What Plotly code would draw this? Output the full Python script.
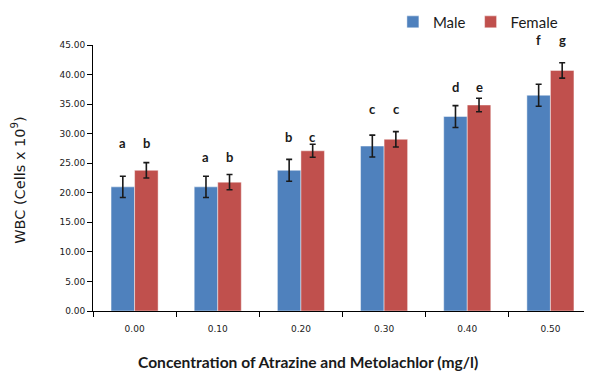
import plotly.graph_objects as go

categories = ["0.00", "0.10", "0.20", "0.30", "0.40", "0.50"]
male = [21.0, 21.0, 23.8, 27.9, 32.9, 36.5]
male_err = [1.8, 1.8, 1.85, 1.85, 1.85, 1.85]
female = [23.8, 21.8, 27.1, 29.05, 34.85, 40.7]
female_err = [1.3, 1.3, 1.1, 1.3, 1.15, 1.3]
male_letters = ["a", "a", "b", "c", "d", "f"]
female_letters = ["b", "b", "c", "c", "e", "g"]
letter_y = [28.5, 26.1, 29.5, 34.2, 37.9, 45.8]
y_ticks = [0, 5, 10, 15, 20, 25, 30, 35, 40, 45]
Y_MAX = 45

BLUE = "#4F81BD"
RED = "#C0504D"
TXT = "#1a1a1a"

fig = go.Figure()
fig.add_trace(go.Bar(
    name="Male", x=categories, y=male,
    marker=dict(color=BLUE, line=dict(color="rgba(255,255,255,0.45)", width=1)),
    error_y=dict(type="data", array=male_err, color="#1a1a1a", thickness=1.6, width=3),
))
fig.add_trace(go.Bar(
    name="Female", x=categories, y=female,
    marker=dict(color=RED, line=dict(color="rgba(255,255,255,0.45)", width=1)),
    error_y=dict(type="data", array=female_err, color="#1a1a1a", thickness=1.6, width=3),
))

annotations = []
lf = dict(family="Lato", size=13, color=TXT, weight="bold")
for i, (ly, ml, fl) in enumerate(zip(letter_y, male_letters, female_letters)):
    annotations.append(dict(x=i, y=ly / Y_MAX, xref="x", yref="paper", text=ml, showarrow=False,
                            xshift=-12, yanchor="middle", xanchor="center", font=lf))
    annotations.append(dict(x=i, y=ly / Y_MAX, xref="x", yref="paper", text=fl, showarrow=False,
                            xshift=12, yanchor="middle", xanchor="center", font=lf))

annotations.append(dict(text="WBC (Cells x 10<sup>9</sup>)", xref="paper", yref="paper",
                        x=-0.15, y=0.49, xanchor="center", yanchor="middle", textangle=-90,
                        showarrow=False,
                        font=dict(family="DejaVu Sans", size=14.5, color=TXT)))
annotations.append(dict(text="Concentration of Atrazine and Metolachlor (mg/l)", xref="paper", yref="paper",
                        x=0.431, y=-0.19, xanchor="center", yanchor="middle",
                        showarrow=False,
                        font=dict(family="Lato", size=15.6, color=TXT, weight="bold")))

fig.update_layout(
    width=584, height=363,
    margin=dict(l=85, r=0, t=37, b=59.5, autoexpand=False),
    paper_bgcolor="white", plot_bgcolor="white",
    barmode="group", bargap=0.434, bargroupgap=0,
    showlegend=True,
    legend=dict(orientation="h", x=0.601, y=1.086, xanchor="left", yanchor="middle",
                font=dict(family="Lato", size=15, color=TXT), itemwidth=30,
                bgcolor="rgba(0,0,0,0)"),
    annotations=annotations,
    xaxis=dict(type="category", showline=True, linecolor="black", linewidth=1,
               ticks="outside", ticklen=5, tickcolor="black", tickson="boundaries",
               ticklabelstandoff=9,
               tickfont=dict(family="DejaVu Sans", size=9, color=TXT),
               showgrid=False, zeroline=False),
    yaxis=dict(range=[0, Y_MAX], tickvals=y_ticks, tickformat=".2f",
               showline=True, linecolor="black", linewidth=1,
               ticks="outside", ticklen=5, tickcolor="black",
               tickfont=dict(family="DejaVu Sans", size=9, color=TXT),
               showgrid=False, zeroline=False),
)

fig.write_html("out.html")
